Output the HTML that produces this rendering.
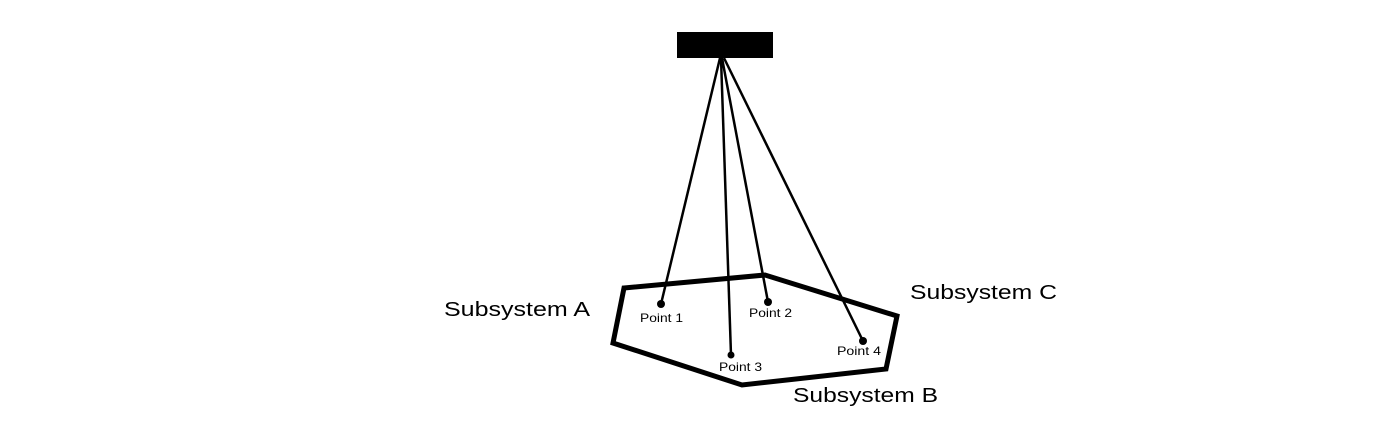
<!DOCTYPE html>
<html><head><style>html,body{margin:0;padding:0;background:#fff}</style></head>
<body>
<svg width="1386" height="424" xmlns="http://www.w3.org/2000/svg" font-family="Liberation Sans, DejaVu Sans, sans-serif">
<rect x="677" y="32" width="96" height="26" fill="#000"/>
<polygon points="624,288 765,275 897,316 886,369 742,385 613,343" fill="none" stroke="#000" stroke-width="5" stroke-linejoin="miter"/>
<g stroke="#000" stroke-width="2.5">
<line x1="720" y1="58" x2="661" y2="304"/>
<line x1="722" y1="58" x2="768" y2="302"/>
<line x1="721" y1="58" x2="731" y2="355"/>
<line x1="724" y1="58" x2="863" y2="341"/>
</g>
<g fill="#000">
<circle cx="661" cy="304" r="4"/>
<circle cx="768" cy="302" r="4"/>
<circle cx="731" cy="355" r="3.5"/>
<circle cx="863" cy="341" r="4"/>
</g>
<g font-size="12" fill="#000">
<text x="640" y="322" textLength="43" lengthAdjust="spacingAndGlyphs">Point 1</text>
<text x="749" y="317" textLength="43" lengthAdjust="spacingAndGlyphs">Point 2</text>
<text x="719" y="371" textLength="43" lengthAdjust="spacingAndGlyphs">Point 3</text>
<text x="837" y="355" textLength="44" lengthAdjust="spacingAndGlyphs">Point 4</text>
</g>
<g font-size="20" fill="#000">
<text x="444" y="316" textLength="146" lengthAdjust="spacingAndGlyphs">Subsystem A</text>
<text x="910" y="299" textLength="147" lengthAdjust="spacingAndGlyphs">Subsystem C</text>
<text x="793" y="402" textLength="145" lengthAdjust="spacingAndGlyphs">Subsystem B</text>
</g>
</svg>
</body></html>
